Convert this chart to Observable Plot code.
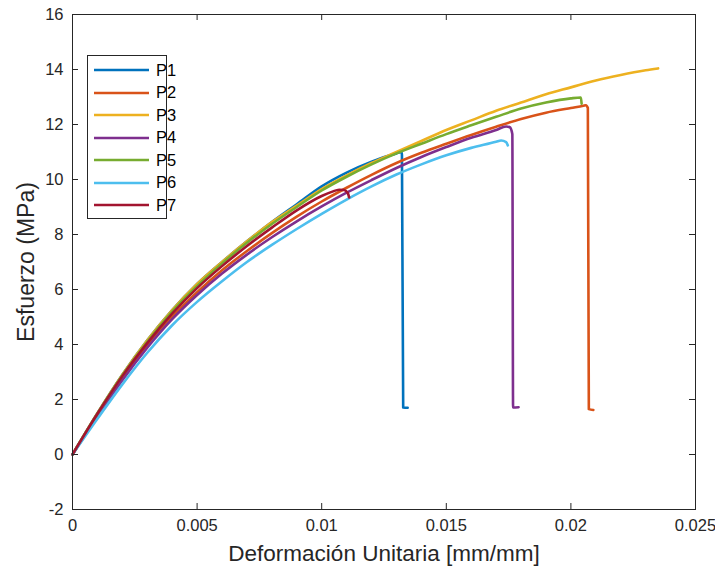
<!DOCTYPE html>
<html>
<head>
<meta charset="utf-8">
<script src="https://cdn.jsdelivr.net/npm/d3@7"></script>
<script src="https://cdn.jsdelivr.net/npm/@observablehq/plot@0.6"></script>
<style>
  html, body { margin: 0; padding: 0; background: #fff; }
  #wrap { position: relative; width: 715px; height: 576px; }
  #legend { position: absolute; left: 87px; top: 55px; width: 80px; height: 164px;
    border: 1px solid #262626; background: #fff; box-sizing: border-box;
    font-family: "Liberation Sans", Arial, sans-serif; font-size: 16.5px; color: #000; }
  .item { position: absolute; left: 0; height: 22px; display: flex; align-items: center; }
  .item svg { margin-left: 5px; margin-right: 6px; }
</style>
</head>
<body>
<div id="wrap"><div id="legend"></div></div>
<script>
const seriesNames = ["P1", "P2", "P3", "P4", "P5", "P6", "P7"];
const seriesColors = ["#0072BD", "#D95319", "#EDB120", "#7E2F8E", "#77AC30", "#4DBEEE", "#A2142F"];
const xTicks = [0, 0.005, 0.01, 0.015, 0.02, 0.025];
const yTicks = [-2, 0, 2, 4, 6, 8, 10, 12, 14, 16];

// strain [mm/mm], stress [MPa]
const P1 = [[0,0],[0.001,1.5],[0.002,2.9],[0.003,4.15],[0.004,5.25],[0.005,6.2],[0.006,7.0],[0.007,7.75],[0.008,8.45],[0.009,9.1],[0.010,9.75],[0.011,10.25],[0.012,10.65],[0.013,10.95],[0.0132,11.0],[0.01322,10.9],[0.01327,1.71],[0.01345,1.7]];
const P2 = [[0,0],[0.001,1.42],[0.002,2.75],[0.003,3.95],[0.004,5.0],[0.005,5.9],[0.006,6.7],[0.007,7.4],[0.008,8.05],[0.009,8.65],[0.010,9.2],[0.011,9.7],[0.012,10.17],[0.013,10.6],[0.014,10.97],[0.015,11.3],[0.016,11.62],[0.017,11.92],[0.018,12.2],[0.019,12.43],[0.020,12.6],[0.0205,12.68],[0.0206,12.7],[0.02068,12.6],[0.02072,1.65],[0.0209,1.62]];
const P3 = [[0,0],[0.001,1.5],[0.002,2.9],[0.003,4.15],[0.004,5.25],[0.005,6.2],[0.006,7.0],[0.007,7.75],[0.008,8.45],[0.009,9.05],[0.010,9.65],[0.011,10.15],[0.012,10.6],[0.013,11.0],[0.014,11.4],[0.015,11.8],[0.016,12.15],[0.017,12.5],[0.018,12.8],[0.019,13.1],[0.020,13.35],[0.021,13.6],[0.022,13.8],[0.023,13.97],[0.0235,14.04]];
const P4 = [[0,0],[0.001,1.38],[0.002,2.7],[0.003,3.88],[0.004,4.92],[0.005,5.8],[0.006,6.58],[0.007,7.27],[0.008,7.9],[0.009,8.48],[0.010,9.02],[0.011,9.52],[0.012,9.98],[0.013,10.42],[0.014,10.82],[0.015,11.18],[0.016,11.52],[0.017,11.8],[0.0174,11.93],[0.01755,11.9],[0.01765,11.65],[0.01768,1.71],[0.0179,1.72]];
const P5 = [[0,0],[0.001,1.48],[0.002,2.87],[0.003,4.1],[0.004,5.2],[0.005,6.13],[0.006,6.95],[0.007,7.7],[0.008,8.38],[0.009,9.0],[0.010,9.6],[0.011,10.1],[0.012,10.55],[0.013,10.95],[0.014,11.3],[0.015,11.65],[0.016,11.97],[0.017,12.28],[0.018,12.58],[0.019,12.8],[0.020,12.95],[0.0204,12.98],[0.02043,12.76]];
const P6 = [[0,0],[0.001,1.3],[0.002,2.55],[0.003,3.7],[0.004,4.7],[0.005,5.55],[0.006,6.3],[0.007,7.0],[0.008,7.62],[0.009,8.2],[0.010,8.75],[0.011,9.27],[0.012,9.75],[0.013,10.18],[0.014,10.55],[0.015,10.88],[0.016,11.15],[0.017,11.37],[0.0172,11.42],[0.0174,11.36],[0.01747,11.24]];
const P7 = [[0,0],[0.001,1.48],[0.002,2.85],[0.003,4.05],[0.004,5.12],[0.005,6.05],[0.006,6.85],[0.007,7.58],[0.008,8.25],[0.009,8.88],[0.010,9.4],[0.0104,9.55],[0.0107,9.63],[0.0109,9.62],[0.01105,9.5],[0.0111,9.35]];

const curves = [P1, P2, P3, P4, P5, P6, P7];
const rows = curves.flatMap((c, i) => c.map(([x, y]) => ({series: seriesNames[i], x, y})));

const font = "'Liberation Sans', Arial, Helvetica, sans-serif";
const ink = "#262626";

const chart = Plot.plot({
  width: 715, height: 576,
  marginLeft: 72, marginRight: 20, marginTop: 14, marginBottom: 67,
  style: {fontFamily: font, fontSize: "16.5px", color: ink, background: "#fff"},
  x: {domain: [0, 0.025], ticks: xTicks, tickFormat: d => String(d)},
  y: {domain: [-2, 16], ticks: yTicks, tickFormat: d => String(d)},
  color: {domain: seriesNames, range: seriesColors},
  marks: [
    Plot.line(rows, {x: "x", y: "y", z: "series", stroke: "series", strokeWidth: 2.6, curve: "monotone-x", strokeLinejoin: "round", strokeLinecap: "round"}),
    Plot.frame({stroke: ink, strokeWidth: 1}),
    Plot.tickX(xTicks, {x: d => d, insetTop: 489, stroke: ink}),
    Plot.tickX(xTicks, {x: d => d, insetBottom: 489, stroke: ink}),
    Plot.tickY(yTicks, {y: d => d, insetRight: 617, stroke: ink}),
    Plot.tickY(yTicks, {y: d => d, insetLeft: 617, stroke: ink}),
    Plot.axisX({ticks: xTicks, tickSize: 0, tickPadding: 10, label: null, tickFormat: d => String(d), fill: ink}),
    Plot.axisY({ticks: yTicks, tickSize: 0, tickPadding: 9, label: null, tickFormat: d => String(d), fill: ink}),
    Plot.text(["Deformación Unitaria [mm/mm]"], {frameAnchor: "bottom", textAnchor: "middle", lineAnchor: "middle", dy: 44, fontSize: 22.5, fill: ink}),
    Plot.text(["Esfuerzo (MPa)"], {frameAnchor: "left", textAnchor: "middle", lineAnchor: "middle", dx: -46, rotate: -90, fontSize: 23, fill: ink})
  ]
});
document.getElementById("wrap").prepend(chart);

const legend = document.getElementById("legend");
seriesNames.forEach((name, i) => {
  const item = document.createElement("div");
  item.className = "item";
  item.style.top = (3 + i * 22.5) + "px";
  item.innerHTML = `<svg width="57" height="6"><line x1="1" y1="3" x2="56" y2="3" stroke="${seriesColors[i]}" stroke-width="2.6"/></svg><span>${name}</span>`;
  legend.appendChild(item);
});
</script>
</body>
</html>
